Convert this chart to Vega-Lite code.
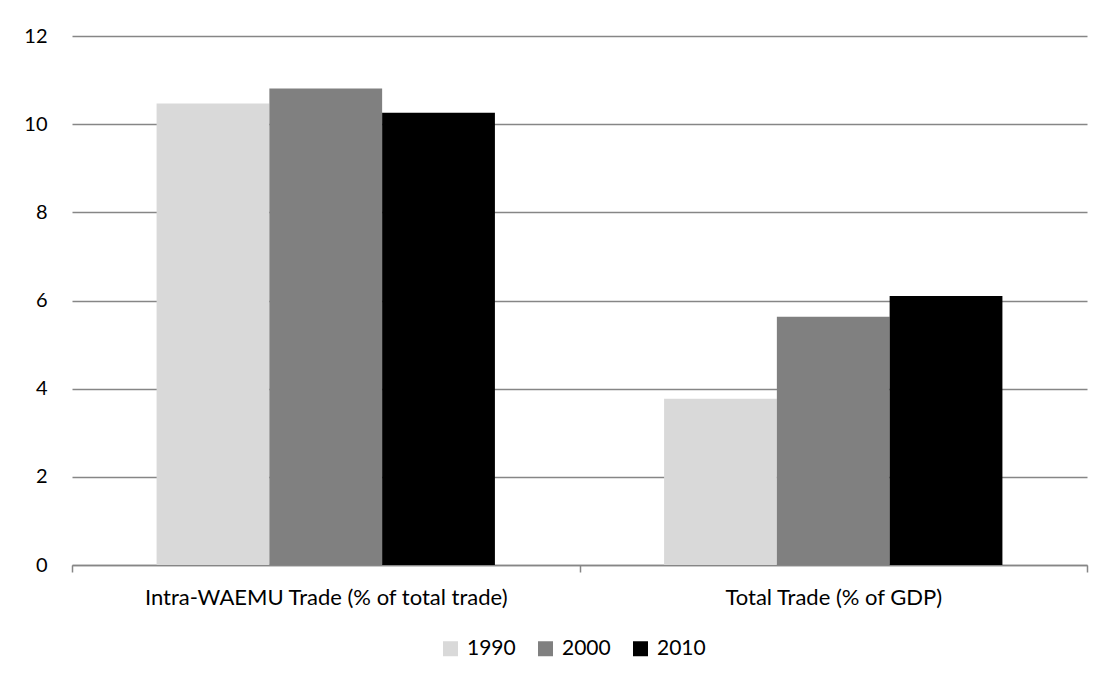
{
  "$schema": "https://vega.github.io/schema/vega-lite/v6.json",
  "autosize": "none",
  "width": 1015,
  "height": 529,
  "padding": {"left": 72, "top": 36, "right": 20, "bottom": 116},
  "background": "white",
  "config": {
    "view": {"stroke": null},
    "font": "Lato",
    "axis": {"labelFont": "Lato", "labelFontSize": 20, "labelColor": "#000000", "labelLimit": 600},
    "legend": {"labelFont": "Lato", "labelFontSize": 21, "labelColor": "#000000"}
  },
  "data": {
    "values": [
      {"category": "Intra-WAEMU Trade (% of total trade)", "year": "1990", "value": 10.47},
      {"category": "Intra-WAEMU Trade (% of total trade)", "year": "2000", "value": 10.81},
      {"category": "Intra-WAEMU Trade (% of total trade)", "year": "2010", "value": 10.26},
      {"category": "Total Trade (% of GDP)", "year": "1990", "value": 3.77},
      {"category": "Total Trade (% of GDP)", "year": "2000", "value": 5.63},
      {"category": "Total Trade (% of GDP)", "year": "2010", "value": 6.10}
    ]
  },
  "mark": {"type": "bar"},
  "encoding": {
    "x": {
      "field": "category",
      "type": "nominal",
      "sort": null,
      "scale": {"paddingInner": 0, "paddingOuter": 0},
      "axis": {
        "title": null,
        "labelAngle": 0,
        "labelFontSize": 22,
        "labelPadding": 15,
        "domainColor": "#868686",
        "domainWidth": 1.5,
        "tickColor": "#868686",
        "tickWidth": 1.5,
        "tickSize": 7,
        "tickBand": "extent",
        "grid": false
      }
    },
    "xOffset": {"field": "year", "type": "nominal", "sort": ["1990", "2000", "2010"], "scale": {"paddingInner": 0, "paddingOuter": 0.75}},
    "y": {
      "field": "value",
      "type": "quantitative",
      "scale": {"domain": [0, 12]},
      "axis": {
        "title": null,
        "values": [0, 2, 4, 6, 8, 10, 12],
        "domain": false,
        "ticks": false,
        "labelPadding": 25,
        "grid": true,
        "gridColor": "#868686",
        "gridWidth": 1.5
      }
    },
    "color": {
      "field": "year",
      "type": "nominal",
      "scale": {"domain": ["1990", "2000", "2010"], "range": ["#d9d9d9", "#808080", "#000000"]},
      "legend": {
        "title": null,
        "orient": "none",
        "legendX": 368,
        "legendY": 602,
        "direction": "horizontal",
        "symbolType": "square",
        "symbolSize": 225,
        "symbolStrokeWidth": 0,
        "labelOffset": 6,
        "columnPadding": 19
      }
    }
  }
}
